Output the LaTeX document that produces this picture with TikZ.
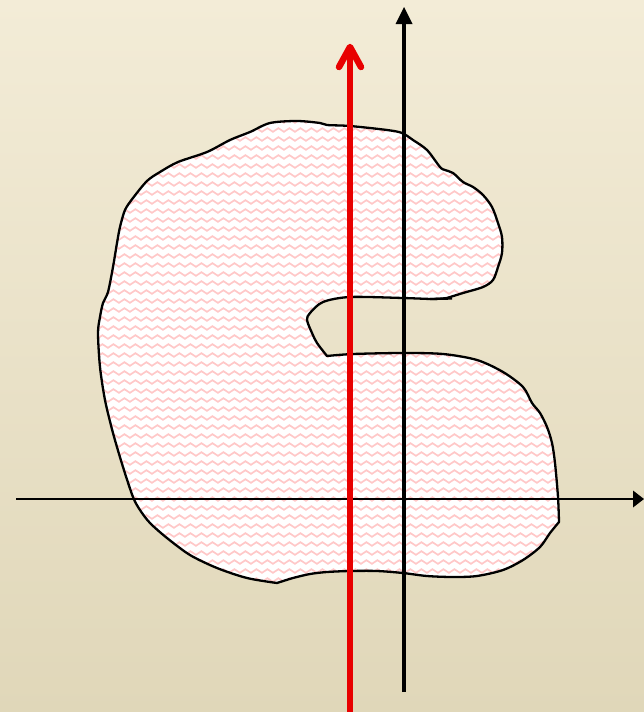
\documentclass[tikz,border=0pt]{standalone}
\usetikzlibrary{decorations.pathmorphing}
\definecolor{bgtop}{RGB}{243,236,215}
\definecolor{bgbot}{RGB}{224,215,185}
\definecolor{wavepink}{RGB}{255,200,200}
\definecolor{axred}{RGB}{232,0,0}
\tikzset{
  outline/.style={line width=2.3pt, line join=round},
  waveline/.style={wavepink, line width=1.7pt, decorate, decoration={snake, segment length=11pt, amplitude=1.8pt}},
  haxis/.style={line width=2.2pt},
  vaxis/.style={line width=4pt},
  redaxis/.style={axred, line width=6.5pt, line cap=round, line join=round},
}
\def\blobpath{
  plot[smooth, tension=0.5] coordinates {(327,356) (353,354) (403,353) (443,354) (477,360) (503,372) (523,387) (532,403) (540,413) (547,427) (552,443) (555,463) (558,497) (559,522)}
  -- plot[smooth, tension=0.5] coordinates {(559,522) (550,533) (540,547) (523,560) (503,570) (477,576) (453,577) (427,576) (403,573) (377,571) (350,571) (327,572) (310,574) (293,578) (277,583)}
  -- plot[smooth, tension=0.5] coordinates {(277,583) (247,578) (217,568) (190,555) (167,538) (150,523) (140,510) (133,497) (123,467) (113,433) (105,400) (100,367) (98,333) (100,317) (103,303) (108,292) (113,267) (117,243) (120,227) (125,210) (133,198) (147,181) (160,172) (178,162) (207,152) (230,140) (250,132) (270,123) (297,121) (320,123) (327,125) (350,126) (387,130) (402,133) (413,140) (427,150) (440,167) (445,170) (453,173) (463,182) (473,187) (483,195) (492,207) (498,223) (502,237) (502,253) (498,267) (493,280) (483,287) (463,293) (447,298)}
  -- plot[smooth, tension=0.5] coordinates {(447,298) (433,299) (403,298) (350,297) (323,302) (310,313) (307,320) (312,333) (317,343) (327,356)}
  -- cycle}
\begin{document}
\begin{tikzpicture}[x=1pt, y=-1pt]
  \useasboundingbox (0,0) rectangle (644,712);
  \shade[top color=bgtop, bottom color=bgbot] (0,0) rectangle (644,712);
  % blob
  \fill[white] \blobpath;
  \begin{scope}
    \clip \blobpath;
    \foreach \yy in {112,121,...,592} {
      \draw[waveline] (88,\yy) -- (572,\yy);
    }
  \end{scope}
  \draw[outline] \blobpath;
  \draw[outline] (430,299) -- (452,298.5);
  % horizontal axis
  \coordinate (hl) at (16,499);
  \coordinate (hr) at (633,499);
  \coordinate (htip) at (644,499);
  \draw[haxis] (hl) -- (hr);
  \fill (htip) -- (633,490.5) -- (633,507.5) -- cycle;
  % vertical black axis
  \coordinate (vb) at (404,692);
  \coordinate (vt) at (404,22);
  \coordinate (vtip) at (404,7);
  \draw[vaxis] (vb) -- (vt);
  \fill (vtip) -- (395.5,24) -- (412.5,24) -- cycle;
  % red axis
  \coordinate (rb) at (350,716);
  \coordinate (rt) at (350,47);
  \draw[redaxis, line cap=butt] (rb) -- (rt);
  \draw[redaxis] (339,67) -- (rt) -- (361,67);
\end{tikzpicture}
\end{document}
